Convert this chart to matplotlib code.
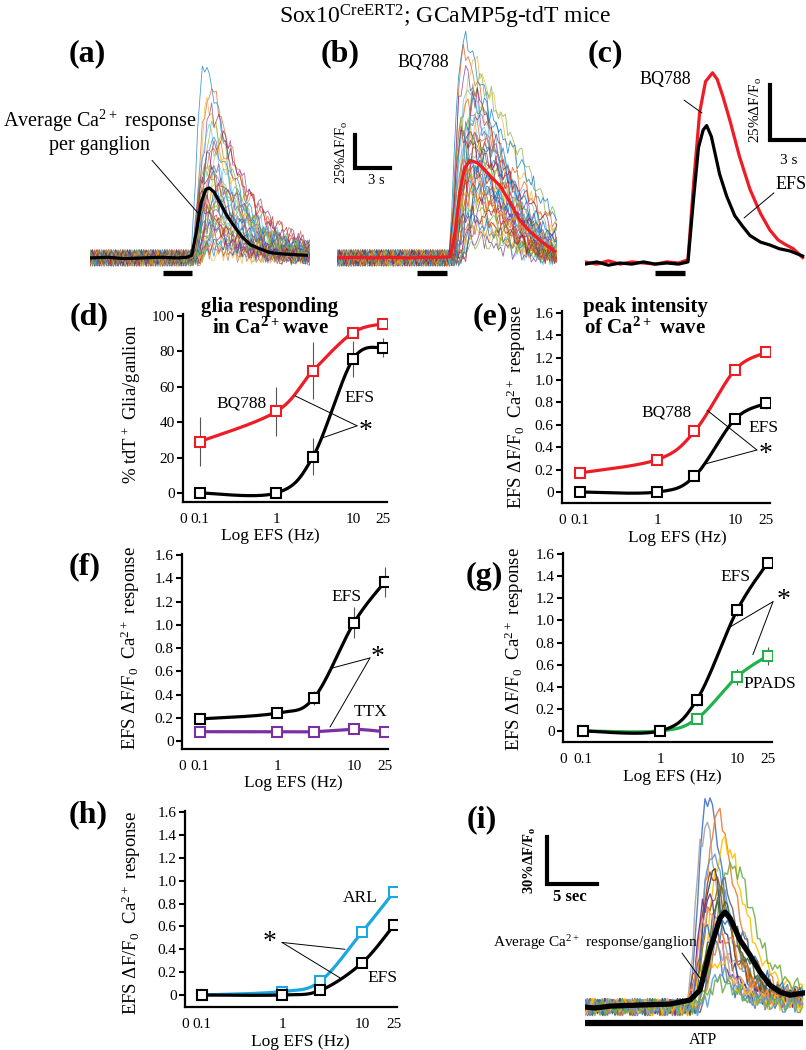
import numpy as np
import matplotlib.pyplot as plt
from matplotlib.ticker import NullLocator

plt.rcParams['font.family'] = ['Liberation Serif', 'DejaVu Serif']
plt.rcParams['mathtext.default'] = 'regular'

# ---------------- dose-response data (EFS frequency, Hz) ----------------
freq = [0.1, 1, 3, 10, 25]
freq_ticks = ['0', '0.1', '1', '10', '25']

d_bq788 = [29, 46, 69, 90.5, 95.5]
d_bq788_err = [14, 14, 16, 2, 1.5]
d_efs = [0, 0, 20.5, 75.5, 82]
d_efs_err = [1, 1, 10.5, 10, 5.5]

e_bq788 = [0.17, 0.29, 0.54, 1.09, 1.245]
e_bq788_err = [0.02, 0.03, 0.03, 0.03, 0.03]
e_efs = [0, 0, 0.14, 0.65, 0.79]
e_efs_err = [0.01, 0.01, 0.02, 0.04, 0.05]

f_efs = [0.19, 0.24, 0.37, 1.02, 1.37]
f_efs_err = [0.03, 0.04, 0.06, 0.13, 0.13]
f_ttx = [0.08, 0.08, 0.08, 0.10, 0.08]
f_ttx_err = [0.01, 0.01, 0.01, 0.01, 0.01]

g_efs = [0, 0, 0.28, 1.09, 1.52]
g_efs_err = [0.01, 0.01, 0.05, 0.05, 0.04]
g_ppads = [0, 0, 0.11, 0.49, 0.68]
g_ppads_err = [0.01, 0.01, 0.02, 0.07, 0.08]

h_arl = [0, 0.03, 0.12, 0.55, 0.90]
h_arl_err = [0.01, 0.01, 0.02, 0.02, 0.02]
h_efs = [0, 0, 0.04, 0.28, 0.61]
h_efs_err = [0.01, 0.01, 0.01, 0.02, 0.02]

# ---------------- Ca2+ traces (time s, response % dF/F0) ----------------
a_avg_t = [0, 1.5, 3, 4.5, 6, 7.5, 8.3, 8.7, 9.1, 9.5, 9.9, 10.2, 10.6, 11.1,
           11.7, 12.4, 13.0, 13.7, 14.5, 15.4, 16.5, 17.5, 18.5]
a_avg_v = [0, 0.5, -0.5, 0, 0.5, 0, 0.5, 2, 20, 42, 52, 53, 50, 42,
           32, 23, 16, 10, 7, 4, 3, 2.5, 2]
a_stim = (6.2, 8.7)
a_onset = 8.6
a_amps = [146, 128, 118, 110, 104, 98, 93, 88, 84, 80, 76, 72, 69, 66, 63, 60,
          57, 54, 51, 48, 46, 44, 41, 38, 36, 33, 30, 28, 25, 22, 20, 17, 15,
          12, 10, 8, 6, 4, 35, 50]
a_lags = [0, 0.15, 0.4, 0.1, 0.6, 0.25, 0.8, 0.5, 0.05, 1.1]
a_widths = [1.0, 1.2, 0.85, 1.4, 1.05, 0.9, 1.3, 1.1, 1.6]
a_tmpl_t = [-1, 0, 0.3, 0.6, 0.9, 1.2, 1.6, 2.2, 3.0, 3.8, 4.8, 6.0, 8.0, 11]
a_tmpl_v = [0, 0, 0.3, 0.65, 0.9, 1.0, 0.95, 0.78, 0.56, 0.4, 0.26, 0.15, 0.07, 0.03]

b_avg_t = [0, 1.5, 3, 4.5, 6, 7.5, 9.0, 9.7, 10.1, 10.5, 10.9, 11.4, 12.0, 12.6,
           13.2, 13.9, 14.6, 15.6, 16.5, 17.4, 18.6]
b_avg_v = [0, 0.5, 0, 0.5, 0, 0.5, 0.5, 1, 20, 50, 68, 74, 72, 67,
           61, 55, 45, 29, 20, 13, 5]
b_stim = (6.8, 9.4)
b_onset = 9.6
b_amps = [162, 155, 148, 140, 134, 128, 123, 118, 114, 110, 106, 102, 99, 96,
          93, 90, 87, 84, 81, 78, 75, 72, 69, 66, 63, 60, 57, 54, 51, 48, 45,
          42, 39, 36, 33, 29, 25, 21, 17, 13, 108, 94, 79, 64, 50]
b_lags = [0, 0.2, 0.5, 0.1, 0.8, 0.3, 1.1, 0.6, 0.05, 1.4, 0.4]
b_widths = [1.0, 0.85, 1.15, 0.95, 1.3, 1.05, 0.9, 1.4]
b_tmpl_t = [-1, 0, 0.3, 0.7, 1.0, 1.4, 2.0, 2.8, 3.6, 4.5, 5.5, 6.5, 7.5, 9.5]
b_tmpl_v = [0, 0, 0.35, 0.8, 0.97, 1.0, 0.93, 0.8, 0.66, 0.5, 0.33, 0.2, 0.1, 0.02]

c_bq_t = [0, 1, 2, 3, 4, 5, 6, 7, 8, 8.8, 9.3, 9.8, 10.3, 10.9, 11.3, 11.8,
          12.4, 13.2, 14.1, 15.0, 15.8, 16.5, 17.1, 17.8, 18.6]
c_bq_v = [0, -1, 0.5, -1, 0, -0.5, -1, 0, -0.5, 1, 37, 68, 82, 86, 83, 75,
          64, 48, 33, 22, 14.5, 10, 8, 6, 2]
c_efs_t = [0, 1, 2, 3, 4, 5, 6, 7, 8, 8.8, 9.3, 9.7, 10.1, 10.4, 10.8, 11.5,
           12.1, 12.8, 13.5, 14.1, 15.0, 15.8, 16.6, 17.5, 18.6]
c_efs_v = [-1, 0, -1.5, -0.5, -1, 0, -1, -0.5, -1, 0, 30, 52, 60, 62, 57, 40,
           30, 21, 16, 12, 9, 7.7, 6, 5, 2.7]
c_stim = (6.0, 8.55)

i_avg_t = [-0.2, 0.8, 2.3, 5.3, 8.3, 10.3, 11.3, 12.3, 13.3, 13.8, 14.3, 15.3,
           16.3, 17.3, 18.3, 19.3, 20.3, 21.6]
i_avg_v = [0, -0.6, 0.6, 1.3, 1.9, 4.5, 10.8, 36.3, 56.7, 60.5, 56.7, 42.7,
           33.1, 22.3, 14.0, 9.6, 7.6, 8.9]
i_onset = 10.0
i_amps = [134, 122, 116, 105, 98, 92, 86, 82, 78, 74, 70, 65, 60, 55, 50, 45,
          40, 30, 22, 15]
i_lags = [0.2, 0.6, 0, 1.0, 0.4, 1.3, 0.8, 0.1, 1.6, 0.5]
i_widths = [0.8, 1.0, 0.75, 1.15, 0.9, 1.3, 0.7, 1.0]
i_tmpl_t = [-1, 0, 0.6, 1.2, 1.8, 2.4, 3.0, 3.6, 4.3, 5.0, 6.0, 7.0, 8.5, 11]
i_tmpl_v = [0, 0, 0.25, 0.6, 0.9, 1.0, 0.95, 0.78, 0.56, 0.38, 0.24, 0.16, 0.1, 0.07]

jitter = [0.3, -0.8, 0.5, 0.1, -0.4, 0.9, -0.2, -0.7, 0.6, 0.0, -0.5, 0.8, -0.1,
          0.4, -0.9, 0.2, 0.7, -0.3, -0.6, 0.5, 0.1, -0.8, 0.9, -0.4, 0.3, -0.1,
          0.6, -0.7, 0.2, 0.8, -0.5, 0.0, -0.3, 0.7, -0.9, 0.4, 0.1, -0.6, 0.5,
          -0.2, 0.9, -0.4, 0.3, -0.8, 0.6, -0.1, 0.2]

matlab_cols = ['#0072BD', '#D95319', '#EDB120', '#7E2F8E', '#77AC30', '#4DBEEE', '#A2142F']
excel_cols = ['#4472C4', '#ED7D31', '#A5A5A5', '#FFC000', '#5B9BD5', '#70AD47', '#264478',
              '#9E480E', '#636363', '#997300', '#7030A0', '#43682B', '#FF9966', '#2E75B6']

RED = '#EE1C25'
PURPLE = '#7B2FA0'
GREEN = '#22B14C'
BLUE = '#1BA7E3'

W, H = 806, 1050
fig = plt.figure(figsize=(W / 100, H / 100), dpi=100)


def rect(l, t, r, b):
    return [l / W, 1 - b / H, (r - l) / W, (b - t) / H]


def ftext(x, y, s, **kw):
    kw.setdefault('ha', 'center')
    kw.setdefault('va', 'center')
    fig.text(x / W, 1 - y / H, s, **kw)


def smooth(xs, ys, n=40):
    # Catmull-Rom through the points, in log-x space (like a smoothed line)
    P = np.column_stack([np.log10(xs), ys]).astype(float)
    P = np.vstack([P[:1], P, P[-1:]])
    s = np.linspace(0, 1, n)[:, None]
    segs = []
    for i in range(1, len(P) - 2):
        p0, p1, p2, p3 = P[i - 1], P[i], P[i + 1], P[i + 2]
        segs.append(0.5 * (2 * p1 + (p2 - p0) * s + (2 * p0 - 5 * p1 + 4 * p2 - p3) * s ** 2
                           + (3 * p1 - p0 - 3 * p2 + p3) * s ** 3))
    c = np.vstack(segs)
    return 10 ** c[:, 0], c[:, 1]


def log_panel(px, xlim, ylim, yticks, ylabels, ylabel, lab_xy):
    ax = fig.add_axes(rect(*px))
    ax.set_xscale('log')
    ax.set_xlim(xlim)
    ax.set_ylim(ylim)
    for s in ['top', 'right']:
        ax.spines[s].set_visible(False)
    for s in ['left', 'bottom']:
        ax.spines[s].set_linewidth(1.6)
    ax.set_xticks([xlim[0]] + freq[:2] + freq[3:])
    ax.set_xticklabels(freq_ticks)
    ax.xaxis.set_minor_locator(NullLocator())
    ax.tick_params(axis='x', length=0, pad=8, labelsize=11)
    ax.set_yticks(yticks)
    ax.set_yticklabels(ylabels)
    ax.tick_params(axis='y', length=4, width=1.5, pad=2, labelsize=11)
    ax.set_ylabel(ylabel, fontsize=13.5)
    ax.yaxis.set_label_coords(*lab_xy)
    return ax


def series(ax, y, err, color):
    sx, sy = smooth(freq, y)
    ax.plot(sx, sy, color=color, lw=2.3, zorder=2, solid_capstyle='round')
    ax.errorbar(freq, y, yerr=err, fmt='none', ecolor='#555555', elinewidth=0.8, zorder=3)
    ax.plot(freq, y, 's', ms=6.5, mfc='white', mec=color, mew=1.5, zorder=4)


def leader(ax, start, end):
    ax.annotate('', xy=end, xytext=start,
                arrowprops=dict(arrowstyle='-', lw=0.7, color='k', shrinkA=0, shrinkB=0))


def traces(ax, t, onset, amps, lags, widths, tt, tv, noise, cols, lw, alpha):
    jit = np.asarray(jitter)
    for k, amp in enumerate(amps):
        rel = (t - onset - lags[k % len(lags)]) / widths[k % len(widths)]
        sig = amp * np.interp(rel, tt, tv)
        idx = (np.arange(len(t)) * 5 + k * 17) % len(jit)
        v = sig + noise * jit[idx] * (1 + sig / 300)
        ax.plot(t, v, color=cols[k % len(cols)], lw=lw, alpha=alpha, zorder=1)


ftext(445, 17, 'Sox10$^{CreERT2}$; GCaMP5g-tdT mice', fontsize=17)

ylab = 'EFS \u0394F/F$_0$  Ca$^{2+}$ response'

# ---------------- (a) ----------------
XS = 220 / 11.7
ax = fig.add_axes(rect(90, 20, 310, 285))
ax.set_xlim(0, XS)
ax.set_ylim(-20.5, 180.3)
ax.axis('off')
traces(ax, np.arange(0, XS, 0.2), a_onset, a_amps, a_lags, a_widths, a_tmpl_t, a_tmpl_v,
       7, matlab_cols, 0.6, 0.7)
ax.plot(a_avg_t, a_avg_v, color='k', lw=2.3, zorder=3)
ax.plot(a_stim, [-11.4, -11.4], color='k', lw=3.8, solid_capstyle='butt')
ax.text(0.8, 96, 'Average Ca$^{2+}$ response\nper ganglion', ha='center', va='center',
        fontsize=14.5, linespacing=1.15)
leader(ax, (5.3, 74), (9.23, 34))

# ---------------- (b) ----------------
ax = fig.add_axes(rect(337, 20, 557, 285))
ax.set_xlim(0, XS)
ax.set_ylim(-20.5, 180.3)
ax.axis('off')
traces(ax, np.arange(0, XS, 0.2), b_onset, b_amps, b_lags, b_widths, b_tmpl_t, b_tmpl_v,
       7, matlab_cols, 0.6, 0.75)
ax.plot(b_avg_t, b_avg_v, color=RED, lw=2.3, zorder=3)
ax.plot(b_stim, [-11.4, -11.4], color='k', lw=3.8, solid_capstyle='butt')
ax.plot([1.54, 1.54, 1.54 + 3], [68 + 25, 68, 68], color='k', lw=3, solid_joinstyle='miter')
ax.text(0.43, 80, '25%\u0394F/F$_o$', rotation=90, ha='center', va='center', fontsize=10.5)
ax.text(3.4, 59, '3 s', ha='center', va='center', fontsize=10.5)
ax.text(7.4, 148, 'BQ788', ha='center', va='center', fontsize=13)

# ---------------- (c) ----------------
ax = fig.add_axes(rect(585, 20, 805, 285))
ax.set_xlim(0, XS)
ax.set_ylim(-10.5, 110)
ax.axis('off')
ax.plot(c_efs_t, c_efs_v, color='k', lw=2.3, zorder=3)
ax.plot(c_bq_t, c_bq_v, color=RED, lw=2.3, zorder=2)
ax.plot(c_stim, [-5, -5], color='k', lw=3.8, solid_capstyle='butt')
ax.plot([15.8, 15.8, 15.8 + 3], [55.5 + 25, 55.5, 55.5], color='k', lw=3,
        solid_joinstyle='miter', clip_on=False)
ax.text(14.6, 69, '25%\u0394F/F$_o$', rotation=90, ha='center', va='center', fontsize=11)
ax.text(17.4, 46, '3 s', ha='center', va='center', fontsize=11)
ax.text(6.9, 83, 'BQ788', ha='center', va='center', fontsize=13)
leader(ax, (8.46, 73.6), (10.0, 67.7))
ax.text(17.6, 35, 'EFS', ha='center', va='center', fontsize=13)
leader(ax, (16.15, 31.4), (13.6, 20))

# ---------------- (d) ----------------
ax = log_panel((183, 314, 387, 502), (0.06, 27.8), (-5.1, 101),
               [0, 20, 40, 60, 80, 100], ['0', '20', '40', '60', '80', '100'],
               '% tdT$^+$ Glia/ganlion', (-0.196, 0.52))
series(ax, d_efs, d_efs_err, 'k')
series(ax, d_bq788, d_bq788_err, RED)
ax.text(0.354, 50.3, 'BQ788', ha='center', va='center', fontsize=12.5)
ax.text(12, 53.7, 'EFS', ha='center', va='center', fontsize=12.5)
ax.text(14.6, 34.5, '*', ha='center', va='center', fontsize=20)
leader(ax, (11.3, 37.9), (1.75, 54.8))
leader(ax, (11.3, 37.9), (3.94, 31))
ftext(270, 318, 'glia responding\nin Ca$^{2+}$wave', fontsize=15, fontweight='bold',
      linespacing=1.0)
ftext(270, 536, 'Log EFS (Hz)', fontsize=12.5)

# ---------------- (e) ----------------
yt = [0, 0.2, 0.4, 0.6, 0.8, 1.0, 1.2, 1.4, 1.6]
ytl = ['0', '0.2', '0.4', '0.6', '0.8', '1.0', '1.2', '1.4', '1.6']
ax = log_panel((562, 311, 770, 503), (0.0586, 28.3), (-0.098, 1.615), yt, ytl,
               ylab, (-0.163, 0.5))
series(ax, e_efs, e_efs_err, 'k')
series(ax, e_bq788, e_bq788_err, RED)
ax.text(1.29, 0.71, 'BQ788', ha='center', va='center', fontsize=12.5)
ax.text(23, 0.57, 'EFS', ha='center', va='center', fontsize=12.5)
ax.text(24.8, 0.335, '*', ha='center', va='center', fontsize=20)
leader(ax, (19.2, 0.375), (4.36, 0.73))
leader(ax, (19.2, 0.375), (4.1, 0.25))
ftext(645, 318, 'peak intensity\nof Ca$^{2+}$ wave', fontsize=15, fontweight='bold',
      linespacing=1.0)
ftext(677, 538, 'Log EFS (Hz)', fontsize=12.5)

# ---------------- (f) ----------------
ax = log_panel((182, 554, 388, 749), (0.058, 27.6), (-0.069, 1.61), yt, ytl,
               ylab, (-0.194, 0.52))
series(ax, f_ttx, f_ttx_err, PURPLE)
series(ax, f_efs, f_efs_err, 'k')
ax.text(7.87, 1.24, 'EFS', ha='center', va='center', fontsize=12.5)
ax.text(16.6, 0.25, 'TTX', ha='center', va='center', fontsize=12.5)
ax.text(20.5, 0.72, '*', ha='center', va='center', fontsize=20)
leader(ax, (16.1, 0.715), (5.33, 0.63))
leader(ax, (16.1, 0.715), (4.87, 0.12))
ftext(293, 783, 'Log EFS (Hz)', fontsize=12.5)

# ---------------- (g) ----------------
ax = log_panel((563, 553, 772, 742), (0.055, 28.5), (-0.1, 1.61), yt, ytl,
               ylab, (-0.175, 0.49))
series(ax, g_ppads, g_ppads_err, GREEN)
series(ax, g_efs, g_efs_err, 'k')
ax.text(9.7, 1.39, 'EFS', ha='center', va='center', fontsize=12.5)
ax.text(26.9, 0.425, 'PPADS', ha='center', va='center', fontsize=12.5)
ax.text(40, 1.18, '*', ha='center', va='center', fontsize=20)
leader(ax, (29.4, 1.17), (8.1, 0.94))
leader(ax, (29.4, 1.17), (16.1, 0.69))
ftext(672, 777, 'Log EFS (Hz)', fontsize=12.5)

# ---------------- (h) ----------------
ax = log_panel((185, 811, 397, 1007), (0.0613, 27.4), (-0.105, 1.61), yt, ytl,
               ylab, (-0.198, 0.48))
series(ax, h_arl, h_arl_err, BLUE)
series(ax, h_efs, h_efs_err, 'k')
ax.text(9.44, 0.85, 'ARL', ha='center', va='center', fontsize=12.5)
ax.text(18.3, 0.15, 'EFS', ha='center', va='center', fontsize=12.5)
ax.text(0.7, 0.46, '*', ha='center', va='center', fontsize=20)
leader(ax, (1.0, 0.46), (6.13, 0.40))
leader(ax, (1.0, 0.46), (5.3, 0.15))
ftext(300, 1042, 'Log EFS (Hz)', fontsize=12.5)

# ---------------- (i) ----------------
ax = fig.add_axes(rect(585, 780, 805, 1030))
ax.set_xlim(-0.2, 21.8)
ax.set_ylim(-14.6, 144.6)
ax.axis('off')
traces(ax, np.arange(-0.2, 21.6, 0.25), i_onset, i_amps, i_lags, i_widths, i_tmpl_t,
       i_tmpl_v, 6, excel_cols, 1.0, 0.9)
ax.plot(i_avg_t, i_avg_v, color='k', lw=3.8, zorder=3)
ax.plot([-0.2, 21.6], [-10.2, -10.2], color='k', lw=4.5, solid_capstyle='butt')
ax.text(11.6, -21, 'ATP', ha='center', va='center', fontsize=11.5)
ax.plot([-4, -4, 1], [78.3 + 30, 78.3, 78.3], color='k', lw=3, solid_joinstyle='miter',
        clip_on=False)
ax.text(-5.7, 93.6, '30%\u0394F/F$_o$', rotation=90, ha='center', va='center',
        fontsize=10.5, fontweight='bold')
ax.text(-1.7, 70, '5 sec', ha='center', va='center', fontsize=12, fontweight='bold')
ax.text(0.9, 40.8, 'Average Ca$^{2+}$ response/ganglion', ha='center', va='center',
        fontsize=11)
leader(ax, (9.5, 34.4), (11.3, 18.5))

# ---------------- panel letters ----------------
for lab, x, y in [('(a)', 87, 54), ('(b)', 340, 54), ('(c)', 605, 54),
                  ('(d)', 89, 317), ('(e)', 490, 317), ('(f)', 85, 567),
                  ('(g)', 484, 576), ('(h)', 88, 815), ('(i)', 482, 820)]:
    ftext(x, y, lab, fontsize=23, fontweight='bold')

fig.savefig('out.png', dpi=100)
